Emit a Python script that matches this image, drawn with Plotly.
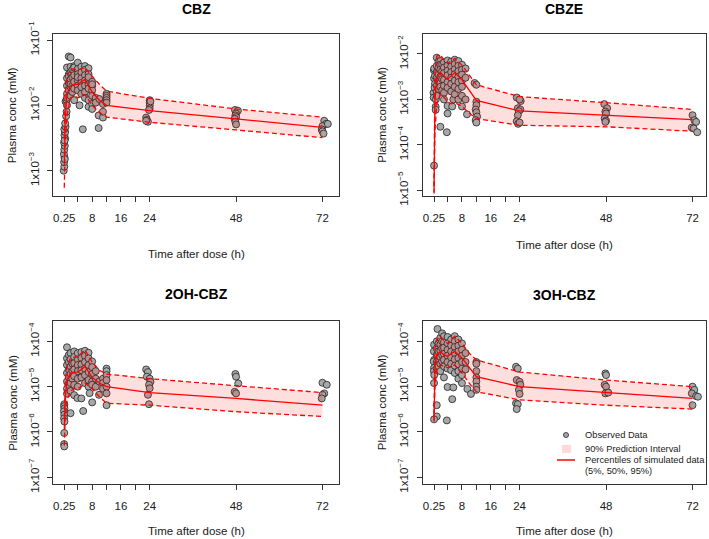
import plotly.graph_objects as go

W, H = 709, 539
FONT = "Liberation Sans, Arial, sans-serif"

# ---------------- data ----------------
sim_time = [0.25, 0.5, 1, 2, 3, 4, 5, 6, 8, 10, 12, 24, 48, 72]

x_tick_vals = [0.25, 8, 16, 24, 48, 72]
x_tick_text = ["0.25", "8", "16", "24", "48", "72"]
x_minor_ticks = [4, 12, 20]

panel_names = ["CBZ", "CBZE", "2OH-CBZ", "3OH-CBZ"]

# CBZ
cbz_p5 = [5.5e-4, 2.5e-3, 7e-3, 1.3e-2, 1.4e-2, 1.3e-2, 1.35e-2, 1.45e-2, 1.0e-2, 7.8e-3, 6.6e-3, 5.5e-3, 4.2e-3, 3.2e-3]
cbz_p50 = [1.2e-3, 6e-3, 1.5e-2, 2.0e-2, 2.1e-2, 2.1e-2, 2.3e-2, 2.5e-2, 1.6e-2, 1.2e-2, 1.0e-2, 8.3e-3, 6.2e-3, 4.6e-3]
cbz_p95 = [3e-3, 1.5e-2, 2.8e-2, 3.6e-2, 3.6e-2, 3.5e-2, 3.6e-2, 3.8e-2, 2.8e-2, 2.1e-2, 1.65e-2, 1.28e-2, 8.8e-3, 6.6e-3]
cbz_obs = [
    (0.1, 1.0e-3), (0.25, 1.15e-3), (0.2, 1.35e-3), (0.3, 1.6e-3), (0.15, 1.8e-3), (0.25, 2.1e-3),
    (0.4, 2.4e-3), (0.2, 2.7e-3), (0.5, 3.1e-3), (0.3, 3.5e-3), (0.5, 3.9e-3), (0.25, 4.3e-3),
    (0.6, 4.7e-3), (0.5, 5.3e-3), (0.75, 6.8e-3), (0.9, 8.0e-3), (0.6, 1.15e-2), (0.9, 1.2e-2),
    (0.4, 1.5e-3), (0.35, 2.9e-3),
    (1, 1.5e-2), (1, 2.0e-2), (1, 2.6e-2), (1, 3.8e-2), (1, 1.3e-2), (1, 1.0e-2),
    (1.5, 5.6e-2), (1.5, 3.0e-2), (1.5, 2.2e-2), (1.5, 1.7e-2), (1.5, 2.8e-2),
    (2, 5.4e-2), (2, 3.9e-2), (2, 3.2e-2), (2, 2.5e-2), (2, 1.9e-2), (2, 1.4e-2), (2, 2.1e-2),
    (2.5, 3.5e-2), (2.5, 2.7e-2), (2.5, 2.0e-2), (2.5, 1.6e-2),
    (3, 4.0e-2), (3, 3.3e-2), (3, 2.9e-2), (3, 2.3e-2), (3, 1.8e-2), (3, 1.2e-2), (3, 3.8e-2),
    (4, 4.5e-2), (4, 3.6e-2), (4, 3.0e-2), (4, 2.4e-2), (4, 2.0e-2), (4, 1.7e-2), (4, 2.7e-2),
    (4.5, 1.0e-2),
    (5, 3.9e-2), (5, 3.2e-2), (5, 2.6e-2), (5, 2.2e-2), (5, 1.9e-2), (5, 1.5e-2), (5.4, 4.3e-3),
    (6, 4.0e-2), (6, 3.5e-2), (6, 2.9e-2), (6, 2.4e-2), (6, 2.0e-2), (6, 1.6e-2), (6, 1.3e-2),
    (7, 3.7e-2), (7, 3.0e-2), (7, 2.5e-2), (7, 2.1e-2), (7, 1.8e-2), (7, 1.2e-2), (7, 9.5e-3), (7, 2.7e-2),
    (8, 2.3e-2), (8, 2.0e-2), (8, 1.7e-2), (8, 1.4e-2), (8, 1.05e-2), (8, 8.8e-3), (8, 2.1e-2),
    (9, 1.3e-2), (9, 1.1e-2),
    (9.8, 7.0e-3), (9.8, 4.5e-3), (10, 1.25e-2),
    (11, 6.5e-3), (11, 8.0e-3), (11, 1.05e-2),
    (12, 1.5e-2), (12, 1.4e-2), (12, 1.3e-2), (12, 1.2e-2), (12, 1.1e-2),
    (23, 6.5e-3), (23.2, 6.0e-3), (23.5, 5.6e-3), (24, 1.2e-2), (24, 1.1e-2), (24, 1.0e-2),
    (24, 9e-3), (23.8, 8.5e-3), (24.2, 1.15e-2), (23, 5.8e-3),
    (47.7, 8.5e-3), (48.5, 8.3e-3), (48, 7.5e-3), (47.8, 7.0e-3), (48, 6.6e-3), (47.6, 6.2e-3),
    (47.8, 5.6e-3), (48, 5.1e-3),
    (72.5, 5.8e-3), (73, 5.2e-3), (72, 4.8e-3), (71.8, 4.3e-3), (72, 4.0e-3), (72.3, 3.7e-3), (73.5, 5.2e-3),
]

# CBZE
cbze_p5 = [8.5e-6, 2e-4, 8e-4, 1.3e-3, 1.1e-3, 9e-4, 8e-4, 8.5e-4, 7e-4, 5e-4, 3.8e-4, 2.7e-4, 2.5e-4, 2.0e-4]
cbze_p50 = [9e-6, 1e-3, 2.9e-3, 3.9e-3, 3.3e-3, 2.8e-3, 3.3e-3, 3.9e-3, 2.7e-3, 1.6e-3, 9.5e-4, 5.6e-4, 4.5e-4, 3.6e-4]
cbze_p95 = [1.2e-5, 4e-3, 9e-3, 9.5e-3, 7.5e-3, 6.2e-3, 7e-3, 8e-3, 5.7e-3, 3.4e-3, 2.1e-3, 1.15e-3, 8.5e-4, 6e-4]
cbze_obs = [
    (0.25, 3.5e-5), (0.2, 4.4e-3), (0.25, 2.9e-3), (0.1, 1.4e-3), (0.15, 1.1e-3), (0.7, 6.9e-4),
    (0.7, 5.9e-4), (0.5, 3.3e-3), (0.5, 2.2e-3), (0.4, 1.8e-3), (0.75, 1.0e-3), (0.3, 4.8e-3),
    (1, 8.3e-3), (1, 5.5e-3), (1, 4.0e-3), (1, 3.0e-3), (1, 2.0e-3), (1, 1.5e-3), (1, 1.2e-3),
    (1.5, 6.8e-3), (1.5, 5.0e-3), (1.5, 3.5e-3), (1.5, 2.5e-3), (1.5, 1.7e-3),
    (2, 7.0e-3), (2, 5.8e-3), (2, 4.5e-3), (2, 3.2e-3), (2, 2.3e-3), (2, 1.9e-3), (2, 2.5e-4),
    (2.5, 6.0e-3), (2.5, 4.2e-3), (2.5, 2.8e-3), (2.5, 1.6e-3),
    (3, 6.5e-3), (3, 5.0e-3), (3, 3.8e-3), (3, 2.7e-3), (3, 2.0e-3), (3, 1.4e-3), (3, 1.0e-3),
    (4, 7.2e-3), (4, 5.6e-3), (4, 4.3e-3), (4, 3.4e-3), (4, 2.4e-3), (4, 1.8e-3), (4, 7.2e-4),
    (4, 4.9e-4), (3.8, 1.9e-4),
    (5, 6.8e-3), (5, 5.3e-3), (5, 4.0e-3), (5, 3.0e-3), (5, 2.2e-3), (5, 1.5e-3), (5.3, 7.0e-4), (5.6, 1.0e-3),
    (6, 7.5e-3), (6, 6.0e-3), (6, 4.6e-3), (6, 3.6e-3), (6, 2.6e-3), (6, 1.9e-3), (6, 1.3e-3),
    (7, 7.0e-3), (7, 5.5e-3), (7, 4.2e-3), (7, 3.2e-3), (7, 2.4e-3), (7, 1.7e-3), (7, 1.0e-3),
    (8, 5.8e-3), (8, 4.5e-3), (8, 3.5e-3), (8, 2.6e-3), (8, 1.9e-3), (8, 1.2e-3), (8, 7.0e-4),
    (9, 4.8e-3), (9, 3.0e-3), (9, 1.0e-3), (9.4, 4.7e-4),
    (11.5, 2.3e-3), (12, 2.1e-3), (12, 8.9e-4), (12, 7.5e-4), (11.8, 6.0e-4), (12, 5.2e-4),
    (12.2, 4.2e-4), (11.8, 3.5e-4), (12, 3.1e-4),
    (23.2, 1.1e-3), (24.3, 9.2e-4), (24, 1.0e-3), (23.5, 6.4e-4), (24.2, 6.0e-4), (23.8, 5.5e-4),
    (23.5, 4.5e-4), (23.2, 3.3e-4), (23.6, 2.9e-4), (24, 3.1e-4),
    (47.5, 7.9e-4), (48.3, 6.4e-4), (47.8, 5.4e-4), (48, 4.9e-4), (47.6, 3.8e-4), (48, 3.4e-4), (47.8, 3.2e-4),
    (72, 4.5e-4), (72.5, 3.5e-4), (73, 3.2e-4), (71.8, 2.4e-4), (72.3, 2.3e-4), (73.3, 1.9e-4),
]

# 2OH-CBZ
oh2_p5 = [5e-7, 2e-6, 5e-6, 8e-6, 9e-6, 9e-6, 1e-5, 1.2e-5, 9e-6, 6e-6, 4.3e-6, 3.9e-6, 2.8e-6, 2.2e-6]
oh2_p50 = [1.1e-6, 5e-6, 1.4e-5, 2e-5, 2.1e-5, 2.1e-5, 2.4e-5, 2.8e-5, 1.6e-5, 1.2e-5, 1.0e-5, 7.4e-6, 5.5e-6, 3.9e-6]
oh2_p95 = [2e-6, 1.2e-5, 3e-5, 4.3e-5, 4.5e-5, 4.5e-5, 5.5e-5, 6.5e-5, 3.5e-5, 2.3e-5, 1.9e-5, 1.5e-5, 1.05e-5, 7.4e-6]
oh2_obs = [
    (0.25, 4.1e-6), (0.2, 3.7e-6), (0.3, 3.3e-6), (0.15, 2.85e-6), (0.25, 2.4e-6), (0.2, 2.0e-6),
    (0.3, 1.7e-6), (0.25, 9.5e-7), (0.2, 5.4e-7), (0.25, 4.8e-7), (2.0, 2.6e-6),
    (1, 7.4e-5), (1, 4.2e-5), (1, 3.0e-5), (1, 2.0e-5), (1, 1.3e-5), (1, 9e-6), (1, 7e-6),
    (1.5, 5.0e-5), (1.5, 3.5e-5), (1.5, 2.4e-5), (1.5, 1.6e-5), (1.5, 1.1e-5),
    (2, 5.5e-5), (2, 4.0e-5), (2, 2.8e-5), (2, 1.9e-5), (2, 1.2e-5), (2, 8e-6),
    (2.5, 3.2e-5), (2.5, 2.2e-5), (2.5, 1.5e-5),
    (3, 6.0e-5), (3, 4.5e-5), (3, 3.3e-5), (3, 2.4e-5), (3, 1.7e-5), (3, 1.1e-5), (3, 6.5e-6),
    (4, 5.5e-5), (4, 4.0e-5), (4, 3.0e-5), (4, 2.2e-5), (4, 1.5e-5), (4, 1.0e-5), (3.9, 5.6e-6),
    (5, 5.8e-5), (5, 4.3e-5), (5, 3.1e-5), (5, 2.3e-5), (5, 1.6e-5), (5.5, 2.9e-6), (5, 5.5e-6),
    (6, 6.2e-5), (6, 4.8e-5), (6, 3.5e-5), (6, 2.5e-5), (6, 1.8e-5), (6, 1.2e-5),
    (7, 5.6e-5), (7, 4.2e-5), (7, 3.0e-5), (7, 2.1e-5), (7, 1.4e-5), (7, 1.0e-5), (7.3, 7.2e-6),
    (8, 3.6e-5), (8, 2.7e-5), (8, 1.9e-5), (8, 1.3e-5), (8, 1.1e-5), (8, 4.5e-6),
    (9, 2.2e-5), (9, 1.5e-5), (9, 1.0e-5),
    (10, 1.3e-5), (9.9, 6.6e-6),
    (11, 1.5e-5), (11, 1.2e-5), (11, 9e-6),
    (12, 2.5e-5), (12, 2.2e-5), (12, 1.8e-5), (12, 1.4e-5), (12, 1.0e-5), (12, 7.1e-6), (12, 3.9e-6),
    (23, 2.4e-5), (23.5, 2.1e-5), (23.2, 1.66e-5), (24, 1.5e-5), (24.2, 1.28e-5), (23.8, 1.1e-5),
    (24, 9.2e-6), (23.5, 6.6e-6), (23.8, 4.1e-6),
    (47.8, 1.9e-5), (48, 1.66e-5), (48.6, 1.18e-5), (47.6, 7.7e-6), (48, 7.1e-6),
    (72, 1.22e-5), (73.2, 1.1e-5), (72.5, 7.1e-6), (72, 6.6e-6), (71.8, 5.5e-6),
]

# 3OH-CBZ
oh3_p5 = [1.7e-6, 1e-5, 2.5e-5, 3e-5, 2.8e-5, 2.6e-5, 2.8e-5, 3e-5, 2e-5, 1.2e-5, 7.7e-6, 5.1e-6, 3.9e-6, 3.2e-6]
oh3_p50 = [1.8e-6, 2.5e-5, 5e-5, 6e-5, 5e-5, 4.7e-5, 5.3e-5, 6e-5, 4.3e-5, 2.6e-5, 1.66e-5, 1e-5, 7.4e-6, 5.5e-6]
oh3_p95 = [2.5e-6, 7e-5, 1.1e-4, 1.3e-4, 1.05e-4, 9e-5, 1.1e-4, 1.3e-4, 9e-5, 5.5e-5, 3.9e-5, 2.1e-5, 1.4e-5, 1e-5]
oh3_obs = [
    (1.2, 1.87e-4), (0.25, 8.4e-5), (0.2, 6.0e-5), (0.3, 3.9e-5), (0.15, 3.6e-5), (0.25, 2.6e-5),
    (0.2, 2.2e-5), (0.3, 1.8e-5), (0.25, 1.2e-5), (1.0, 3.9e-6), (1.0, 2.2e-6), (0.25, 1.9e-6),
    (1, 1.0e-4), (1, 7.0e-5), (1, 5.0e-5), (1, 3.5e-5), (1, 2.5e-5),
    (1.5, 9e-5), (1.5, 6e-5), (1.5, 4e-5), (1.5, 2.8e-5),
    (2, 1.2e-4), (2, 8.5e-5), (2, 6.2e-5), (2, 4.5e-5), (2, 3.2e-5), (2, 2.2e-5),
    (2.5, 1.5e-4), (2.5, 1.0e-4), (2.5, 7e-5), (2.5, 5e-5), (2.5, 3.6e-5),
    (3, 1.3e-4), (3, 9.5e-5), (3, 7.2e-5), (3, 5.3e-5), (3, 3.9e-5), (3, 2.8e-5), (3, 1.6e-5),
    (4, 1.25e-4), (4, 9e-5), (4, 6.5e-5), (4, 4.8e-5), (4, 3.5e-5), (4, 2.5e-5), (4, 9.8e-6), (3.8, 1.8e-6),
    (5, 1.1e-4), (5, 8e-5), (5, 6e-5), (5, 4.4e-5), (5, 3.2e-5), (5, 2.3e-5), (5.3, 5.3e-6), (5.6, 9.6e-6),
    (6, 1.3e-4), (6, 1.0e-4), (6, 7.5e-5), (6, 5.5e-5), (6, 4.0e-5), (6, 2.9e-5), (6, 2.0e-5),
    (7, 1.1e-4), (7, 8e-5), (7, 6e-5), (7, 4.3e-5), (7, 3.1e-5), (7, 2.2e-5), (7, 1.5e-5),
    (8, 9e-5), (8, 6.5e-5), (8, 4.8e-5), (8, 3.5e-5), (8, 2.5e-5), (8, 1.8e-5), (8, 1.2e-5),
    (9, 5.5e-5), (9, 3.5e-5), (9, 2.4e-5), (9.5, 8.9e-6), (10.5, 6.9e-6),
    (12, 3.5e-5), (12, 3.2e-5), (12, 2.2e-5), (12, 1.6e-5), (12, 1.3e-5), (12, 1.0e-5), (12, 8.5e-6),
    (23, 2.75e-5), (23.5, 2.5e-5), (23.2, 1.4e-5), (24, 1.28e-5), (24.2, 1.1e-5), (23.8, 8.5e-6),
    (24, 6.9e-6), (23, 4.3e-6), (23.5, 4.1e-6), (23.2, 3.2e-6),
    (47.8, 1.96e-5), (48, 1.8e-5), (47.6, 1.1e-5), (48, 1.0e-5), (47.8, 7.1e-6), (48.6, 7.4e-6),
    (72, 1e-5), (72.5, 8.5e-6), (71.8, 7.1e-6), (73, 6.2e-6), (73.5, 6.0e-6), (72, 3.9e-6),
]

# y ticks (exponents) per panel
cbz_y_exps = [-3, -2, -1]
cbze_y_exps = [-5, -4, -3, -2]
oh2_y_exps = [-7, -6, -5, -4]
oh3_y_exps = [-7, -6, -5, -4]

legend_labels = ["Observed Data", "90% Prediction Interval", "Percentiles of simulated data", "(5%, 50%, 95%)"]

# ---------------- layout geometry (pixels) ----------------
def fx(px):
    return px / W

def fy(py):
    return 1 - py / H

panels = [
    dict(name=panel_names[0], obs=cbz_obs, p5=cbz_p5, p50=cbz_p50, p95=cbz_p95, exps=cbz_y_exps,
         box=(53.3, 339.0, 34.0, 195.7), xr=[-2.8, 76.6], yr=[-3.383, -0.908],
         title_y=9, xtitle_y=254),
    dict(name=panel_names[1], obs=cbze_obs, p5=cbze_p5, p50=cbze_p50, p95=cbze_p95, exps=cbze_y_exps,
         box=(422.7, 705.5, 34.0, 196.0), xr=[-2.9, 75.6], yr=[-5.125, -1.56],
         title_y=9, xtitle_y=245),
    dict(name=panel_names[2], obs=oh2_obs, p5=oh2_p5, p50=oh2_p50, p95=oh2_p95, exps=oh2_y_exps,
         box=(53.3, 339.0, 321.3, 483.7), xr=[-2.8, 76.6], yr=[-7.141, -3.558],
         title_y=294, xtitle_y=531),
    dict(name=panel_names[3], obs=oh3_obs, p5=oh3_p5, p50=oh3_p50, p95=oh3_p95, exps=oh3_y_exps,
         box=(422.7, 705.5, 321.3, 483.7), xr=[-2.9, 75.6], yr=[-7.141, -3.558],
         title_y=295, xtitle_y=531),
]

RED = "#FF0000"
BAND = "rgba(255,0,0,0.13)"
PT_FILL = "rgb(168,168,168)"
AX = "#333333"
TXT = "#1a1a1a"

fig = go.Figure()
annotations = []
shapes = []
layout_axes = {}

for i, p in enumerate(panels):
    k = "" if i == 0 else str(i + 1)
    xa, ya = "x" + k, "y" + k
    x0, x1, y0, y1 = p["box"]
    ts = [o[0] for o in p["obs"]]
    cs = [o[1] for o in p["obs"]]
    fig.add_trace(go.Scatter(x=ts, y=cs, mode="markers", xaxis=xa, yaxis=ya, showlegend=False,
                             marker=dict(size=7, color=PT_FILL, line=dict(color="#222222", width=0.8)),
                             hoverinfo="skip"))
    fig.add_trace(go.Scatter(x=sim_time, y=p["p5"], mode="lines", xaxis=xa, yaxis=ya, showlegend=False,
                             line=dict(width=0, color=BAND), hoverinfo="skip"))
    fig.add_trace(go.Scatter(x=sim_time, y=p["p95"], mode="lines", xaxis=xa, yaxis=ya, showlegend=False,
                             fill="tonexty", fillcolor=BAND, line=dict(width=0, color=BAND), hoverinfo="skip"))
    for arr, dash in ((p["p5"], "5px,3px"), (p["p95"], "5px,3px"), (p["p50"], "solid")):
        fig.add_trace(go.Scatter(x=sim_time, y=arr, mode="lines", xaxis=xa, yaxis=ya, showlegend=False,
                                 line=dict(color=RED, width=1.3, dash=dash), hoverinfo="skip"))

    layout_axes["xaxis" + k] = dict(
        domain=[fx(x0), fx(x1)], anchor=ya, range=p["xr"], tickvals=x_tick_vals, ticktext=x_tick_text,
        showgrid=False, zeroline=False, showline=True, linecolor=AX, linewidth=1, mirror=True,
        ticks="outside", ticklen=5, tickcolor=AX, tickwidth=1, ticklabelstandoff=6, automargin=False,
        minor=dict(tickvals=x_minor_ticks, ticks="outside", ticklen=5, tickcolor=AX, tickwidth=1, showgrid=False),
        tickfont=dict(family=FONT, size=11.5, color=TXT))
    layout_axes["yaxis" + k] = dict(
        domain=[fy(y1), fy(y0)], anchor=xa, type="log", range=p["yr"],
        tickvals=[10.0 ** e for e in p["exps"]],
        ticktext=["1x10<sup>\u2212%d</sup>" % (-e) for e in p["exps"]],
        tickangle=-90, showgrid=False, zeroline=False, showline=True, linecolor=AX, linewidth=1, mirror=True,
        ticks="outside", ticklen=5, tickcolor=AX, tickwidth=1, ticklabelstandoff=4, automargin=False,
        tickfont=dict(family=FONT, size=11.5, color=TXT))

    cx = (x0 + x1) / 2
    annotations.append(dict(text="<b>%s</b>" % p["name"], x=fx(cx), y=fy(p["title_y"]), xref="paper", yref="paper",
                            showarrow=False, xanchor="center", yanchor="middle",
                            font=dict(family=FONT, size=14, color="#000000")))
    annotations.append(dict(text="Time after dose (h)", x=fx(cx), y=fy(p["xtitle_y"]), xref="paper", yref="paper",
                            showarrow=False, xanchor="center", yanchor="middle",
                            font=dict(family=FONT, size=11.5, color=TXT)))
    annotations.append(dict(text="Plasma conc (mM)", x=fx(x0 - 41), y=fy((y0 + y1) / 2), xref="paper", yref="paper",
                            showarrow=False, xanchor="center", yanchor="middle", textangle=-90,
                            font=dict(family=FONT, size=11.5, color=TXT)))

# ---------------- legend (drawn inside panel 4) ----------------
LEG_X_TEXT = 583
legend_rows_y = [435, 449, 460, 471]
for lab, ry in zip(legend_labels, legend_rows_y):
    annotations.append(dict(text=lab, x=fx(LEG_X_TEXT), y=fy(ry), xref="paper", yref="paper",
                            showarrow=False, xanchor="left", yanchor="middle",
                            font=dict(family=FONT, size=9.3, color=TXT)))
shapes.append(dict(type="circle", xref="paper", yref="paper",
                   x0=fx(563.5), x1=fx(568.5), y0=fy(437.5), y1=fy(432.5),
                   fillcolor=PT_FILL, line=dict(color="#222222", width=0.8)))
shapes.append(dict(type="rect", xref="paper", yref="paper",
                   x0=fx(562), x1=fx(571), y0=fy(453), y1=fy(445),
                   fillcolor="rgba(255,0,0,0.15)", line=dict(width=0)))
shapes.append(dict(type="line", xref="paper", yref="paper",
                   x0=fx(557), x1=fx(575), y0=fy(460), y1=fy(460),
                   line=dict(color=RED, width=1.5)))

fig.update_layout(
    width=W, height=H, margin=dict(l=0, r=0, t=0, b=0, autoexpand=False),
    paper_bgcolor="white", plot_bgcolor="white",
    font=dict(family=FONT, size=11, color=TXT),
    annotations=annotations, shapes=shapes,
    showlegend=False,
    **layout_axes,
)

fig.write_html("out.html", config={"displayModeBar": False},
               post_script="document.body.style.margin='0';")
